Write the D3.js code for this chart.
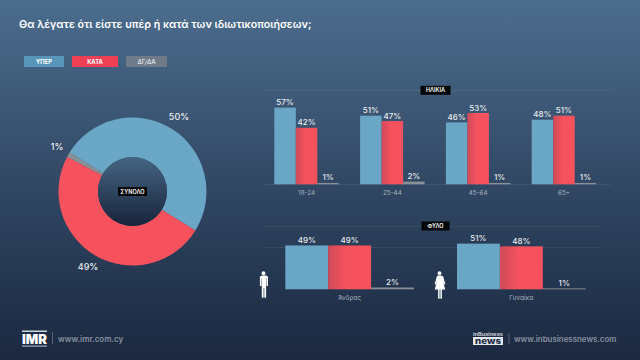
<!DOCTYPE html>
<html>
<head>
<meta charset="utf-8">
<script src="https://cdn.jsdelivr.net/npm/d3@7"></script>
<style>
  html, body { margin: 0; padding: 0; background: #2c4059; }
  svg { display: block; }
  text { font-family: 'Inter', 'Open Sans', sans-serif; }
</style>
</head>
<body>
<div id="chart"></div>
<script>
var title = 'Θα λέγατε ότι είστε υπέρ ή κατά των ιδιωτικοποιήσεων;'
var series = ['ΥΠΕΡ', 'ΚΑΤΑ', 'ΔΓ/ΔΑ']

var total_values = [50, 49, 1]

var age_groups = ['18-24', '25-44', '45-64', '65+']
var age_yper = [57, 51, 46, 48]
var age_kata = [42, 47, 53, 51]
var age_dk = [1, 2, 1, 1]

var sex_groups = ['Άνδρας', 'Γυναίκα']
var sex_yper = [49, 51]
var sex_kata = [49, 48]
var sex_dk = [2, 1]

var c_blue = '#6aa6c6'
var c_red = '#f6525e'
var c_gray = '#8b9096'

var w = 640
var h = 360

var svg = d3.select('#chart').append('svg')
  .attr('width', w)
  .attr('height', h)
  .attr('viewBox', [0, 0, w, h].join(' '))

var defs = svg.append('defs')

var bg = defs.append('linearGradient').attr('id', 'bg')
  .attr('x1', 0).attr('y1', 0).attr('x2', 0).attr('y2', 1)
bg.append('stop').attr('offset', '0%').attr('stop-color', '#4c6d8e')
bg.append('stop').attr('offset', '55%').attr('stop-color', '#2f4561')
bg.append('stop').attr('offset', '100%').attr('stop-color', '#1b2840')

var hole = defs.append('linearGradient').attr('id', 'hole')
  .attr('x1', 0).attr('y1', 0).attr('x2', 0).attr('y2', 1)
hole.append('stop').attr('offset', '0%').attr('stop-color', '#456583')
hole.append('stop').attr('offset', '100%').attr('stop-color', '#18243b')

// red bars get darker where they touch the blue one
var red = defs.append('linearGradient').attr('id', 'red')
red.append('stop').attr('offset', '0%').attr('stop-color', '#d04a58')
red.append('stop').attr('offset', '45%').attr('stop-color', c_red)

svg.append('rect').attr('width', w).attr('height', h).attr('fill', 'url(#bg)')

svg.append('text').text(title)
  .attr('x', 19)
  .attr('y', 28)
  .attr('fill', '#fff')
  .attr('font-size', 10.7)
  .attr('font-weight', 600)

// legend
var legend_x = d3.scaleOrdinal().domain(series).range([24, 72, 126])
var legend_w = d3.scaleOrdinal().domain(series).range([40, 46, 41])
var legend_c = d3.scaleOrdinal().domain(series).range(['#5896b9', '#ee4054', '#6f7b88'])

var legend = svg.append('g').selectAll('g').data(series).enter().append('g')
  .attr('transform', function (d) { return 'translate(' + legend_x(d) + ',56)' })
legend.append('rect')
  .attr('width', legend_w)
  .attr('height', 11)
  .attr('fill', legend_c)
legend.append('text').text(function (d) { return d })
  .attr('x', function (d) { return legend_w(d) / 2 })
  .attr('y', 8)
  .attr('text-anchor', 'middle')
  .attr('fill', function (d, i) { return i === 2 ? '#d5dae0' : '#fff' })
  .attr('font-size', 5.8)
  .attr('font-weight', 700)

function tag (x, y, tw, txt) {
  svg.append('rect')
    .attr('x', x - tw / 2).attr('y', y - 4.5)
    .attr('width', tw).attr('height', 9)
    .attr('fill', '#050608')
  svg.append('text').text(txt)
    .attr('x', x).attr('y', y + 2)
    .attr('text-anchor', 'middle')
    .attr('fill', '#fff')
    .attr('font-size', 5.5)
    .attr('font-weight', 600)
}

// donut
var cx = 132.5
var cy = 191.5
var start = -58.3 * Math.PI / 180
var pie = d3.pie().sort(null).startAngle(start).endAngle(start + 2 * Math.PI)
var arc = d3.arc().innerRadius(34.5).outerRadius(74)
var donut = svg.append('g').attr('transform', 'translate(' + cx + ',' + cy + ')')
var slices = pie(total_values)
donut.selectAll('path').data(slices).enter().append('path')
  .attr('d', arc)
  .attr('fill', function (d, i) { return [c_blue, c_red, c_gray][i] })
svg.append('circle').attr('cx', cx).attr('cy', cy).attr('r', 34.5).attr('fill', 'url(#hole)')
tag(cx, cy, 29, 'ΣΥΝΟΛΟ')

var total_label_x = [179, 57, 88]
var total_label_y = [120, 150, 270]
svg.append('g').selectAll('text').data([0, 2, 1]).enter().append('text')
  .text(function (d) { return total_values[d] + '%' })
  .attr('x', function (d, i) { return total_label_x[i] })
  .attr('y', function (d, i) { return total_label_y[i] })
  .attr('text-anchor', 'middle')
  .attr('fill', '#e8ecef')
  .attr('font-size', 9)
  .attr('font-weight', 500)

function bars (o) {
  var g = svg.append('g')

  o.grid.forEach(function (gy) {
    g.append('line')
      .attr('x1', o.gx0).attr('x2', o.gx1)
      .attr('y1', gy).attr('y2', gy)
      .attr('stroke', '#fff').attr('stroke-opacity', 0.07)
  })

  var x0 = d3.scaleBand().domain(o.groups).range(o.xr)
  var x1 = d3.scaleBand().domain(series).range([0, o.bw * 3])
  var y = d3.scaleLinear().domain([0, 100]).range([o.base, o.base - o.scale * 100])

  var rows = o.groups.map(function (d, i) {
    return { group: d, vals: [o.yper[i], o.kata[i], o.dk[i]] }
  })

  var grp = g.selectAll('g.grp').data(rows).enter().append('g')
    .attr('class', 'grp')
    .attr('transform', function (d) { return 'translate(' + x0(d.group) + ',0)' })

  grp.selectAll('rect').data(function (d) { return d.vals }).enter().append('rect')
    .attr('x', function (d, i) { return x1(series[i]) })
    .attr('y', function (d) { return y(d) })
    .attr('width', x1.bandwidth())
    .attr('height', function (d) { return o.base - y(d) })
    .attr('fill', function (d, i) { return [c_blue, 'url(#red)', c_gray][i] })

  grp.selectAll('text').data(function (d) { return d.vals }).enter().append('text')
    .text(function (d) { return d + '%' })
    .attr('x', function (d, i) { return x1(series[i]) + x1.bandwidth() / 2 })
    .attr('y', function (d) { return y(d) - 2.5 })
    .attr('text-anchor', 'middle')
    .attr('fill', '#e8ecef')
    .attr('font-size', 8)
    .attr('font-weight', 500)

  var axis = d3.axisBottom(x0).tickSize(0).tickPadding(o.pad)
  var ax = g.append('g')
    .attr('transform', 'translate(0,' + o.base + ')')
    .call(axis)
  ax.select('.domain').remove()
  ax.selectAll('text')
    .attr('fill', '#aab4bf')
    .attr('font-size', 6.3)
    .style('font-family', "'Inter', 'Open Sans', sans-serif")
  ax.selectAll('.tick').attr('transform', function (d) {
    return 'translate(' + (x0(d) + o.bw * 1.5) + ',0)'
  })
}

bars({
  groups: age_groups, yper: age_yper, kata: age_kata, dk: age_dk,
  xr: [274.3, 274.3 + 85.8 * 4], bw: 21.5, base: 184.3, scale: 1.345,
  grid: [90.5, 184.5], gx0: 263, gx1: 610, pad: 6
})
tag(435.5, 90.3, 30, 'ΗΛΙΚΙΑ')

bars({
  groups: sex_groups, yper: sex_yper, kata: sex_kata, dk: sex_dk,
  xr: [285.3, 285.3 + 171.7 * 2], bw: 42.9, base: 289.3, scale: 0.895,
  grid: [226.5, 247.5], gx0: 264, gx1: 600, pad: 6
})
tag(435.5, 226, 28, 'ΦΥΛΟ')

// person icons
var man = 'M-2.6 -8.5h5.2l1.9 1.2v9.3h-1.5v-7.5h-.4v19.2h-1.8v-9.7h-.7v9.7h-1.8v-19.2h-.4v7.5h-1.5v-9.3l1.9-1.2z'
var woman = 'M-1.8 -8.5h3.6l1.9 1 2.2 7.7-1.3.4-1.7-5.2 2.9 10h-3.4v9.4h-1.5v-9.4h-.8v9.4h-1.5v-9.4h-3.4l2.9-10-1.7 5.2-1.3-.4 2.2-7.7z'
function icon (x, y, d) {
  var p = svg.append('g').attr('transform', 'translate(' + x + ',' + y + ')')
  p.append('circle').attr('cx', 0).attr('cy', -10.8).attr('r', 1.9).attr('fill', '#fff')
  p.append('path').attr('d', d).attr('fill', '#fff')
}
icon(263.5, 284, man)
icon(439.5, 284, woman)

// footer
svg.append('text').text('IMR').attr('x', 22).attr('y', 344)
  .attr('textLength', 25).attr('lengthAdjust', 'spacingAndGlyphs')
  .attr('fill', '#fff')
  .attr('font-size', 13).attr('font-weight', 900)
svg.append('rect').attr('x', 22).attr('y', 330.5).attr('width', 25).attr('height', 1.5).attr('fill', '#cfd4da')
svg.append('rect').attr('x', 22).attr('y', 345.5).attr('width', 25).attr('height', 1.2).attr('fill', '#a9b0ba')
svg.append('line').attr('x1', 52.5).attr('x2', 52.5).attr('y1', 332).attr('y2', 344)
  .attr('stroke', '#7d8797').attr('stroke-opacity', 0.6)
svg.append('text').text('www.imr.com.cy').attr('x', 58).attr('y', 342)
  .attr('fill', '#87909f').attr('font-size', 8).attr('font-weight', 600)

svg.append('text').text('inBusiness').attr('x', 473).attr('y', 335.5)
  .attr('textLength', 30).attr('lengthAdjust', 'spacingAndGlyphs')
  .attr('fill', '#c9ced6').attr('font-size', 4.5).attr('font-weight', 700)
svg.append('rect').attr('x', 473).attr('y', 337).attr('width', 30).attr('height', 8).attr('fill', '#e4e7eb')
svg.append('text').text('news').attr('x', 475).attr('y', 344)
  .attr('textLength', 26).attr('lengthAdjust', 'spacingAndGlyphs')
  .attr('fill', '#1d2b44')
  .attr('font-size', 8).attr('font-weight', 800)
svg.append('line').attr('x1', 509).attr('x2', 509).attr('y1', 333).attr('y2', 344)
  .attr('stroke', '#7d8797').attr('stroke-opacity', 0.6)
svg.append('text').text('www.inbusinessnews.com').attr('x', 514).attr('y', 342)
  .attr('fill', '#87909f').attr('font-size', 7.9).attr('font-weight', 600)
</script>
</body>
</html>
